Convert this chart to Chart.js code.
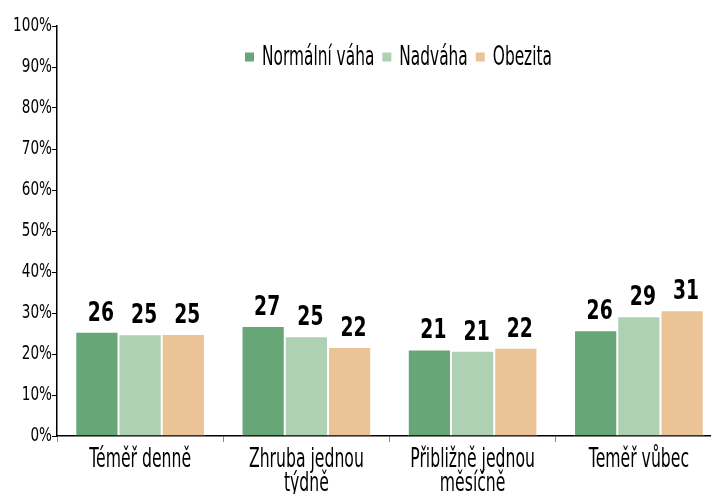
<!DOCTYPE html>
<html>
<head>
<meta charset="utf-8">
<script src="https://cdn.jsdelivr.net/npm/chart.js@4"></script>
<style>
html, body { margin: 0; padding: 0; background: #fff; overflow: hidden; }
#wrap { width: 730px; height: 494px; position: relative; }
</style>
</head>
<body>
<div id="wrap"><canvas id="myChart"></canvas></div>
<script>
// data
var categories = [['Téměř denně'], ['Zhruba jednou', 'týdně'], ['Přibližně jednou', 'měsíčně'], ['Teměř vůbec']];
var seriesNames = ['Normální váha', 'Nadváha', 'Obezita'];
var normalni = [25.4, 26.8, 21.1, 25.8];
var nadvaha = [24.8, 24.3, 20.8, 29.2];
var obezita = [24.9, 21.7, 21.5, 30.7];
var normalniLabels = [26, 27, 21, 26];
var nadvahaLabels = [25, 25, 21, 29];
var obezitaLabels = [25, 22, 22, 31];
var yTicks = [0, 10, 20, 30, 40, 50, 60, 70, 80, 90, 100];
var colors = ['#67a677', '#add1b2', '#eac497'];

var FONT = "'DejaVu Sans', sans-serif";

// draw text horizontally squeezed (the original uses a very narrow font)
function squeezed(ctx, sx, fn) {
  var orig = CanvasRenderingContext2D.prototype.fillText;
  ctx.fillText = function(t, x, y) {
    ctx.save();
    ctx.translate(x, y);
    ctx.scale(sx, 1);
    orig.call(ctx, t, 0, 0);
    ctx.restore();
  };
  try { fn(); } finally { delete ctx.fillText; }
}

function squeezeLabels(sx) {
  return function(scale) {
    if (scale._squeezed) return;
    var orig = scale.drawLabels.bind(scale);
    scale.drawLabels = function(area) {
      squeezed(scale.ctx, sx, function() { orig(area); });
    };
    scale._squeezed = true;
  };
}

var valueLabelPlugin = {
  id: 'valueLabels',
  afterDatasetsDraw: function(chart) {
    var ctx = chart.ctx;
    var all = [normalniLabels, nadvahaLabels, obezitaLabels];
    ctx.save();
    ctx.font = 'bold 26px ' + FONT;
    ctx.fillStyle = '#000';
    ctx.textAlign = 'center';
    ctx.textBaseline = 'alphabetic';
    squeezed(ctx, 0.72, function() {
      chart.data.datasets.forEach(function(ds, i) {
        chart.getDatasetMeta(i).data.forEach(function(bar, j) {
          ctx.fillText(String(all[i][j]), bar.x + 4, bar.y - 11);
        });
      });
    });
    ctx.restore();
  }
};

var legendPlugin = {
  id: 'innerLegend',
  afterDraw: function(chart) {
    var ctx = chart.ctx;
    var sx = 0.57, box = 9, gapBox = 8, gapItem = 8, yc = 57;
    ctx.save();
    ctx.font = '27px ' + FONT;
    var widths = chart.data.datasets.map(function(ds) {
      return ctx.measureText(ds.label).width * sx;
    });
    var x = 245;
    ctx.textBaseline = 'middle';
    ctx.textAlign = 'left';
    squeezed(ctx, sx, function() {
      chart.data.datasets.forEach(function(ds, i) {
        ctx.fillStyle = ds.backgroundColor;
        ctx.fillRect(x, yc - box / 2, box, box);
        x += box + gapBox;
        ctx.fillStyle = '#000';
        ctx.fillText(ds.label, x, yc + 1);
        x += widths[i] + gapItem;
      });
    });
    ctx.restore();
  }
};

var ctx = document.getElementById('myChart').getContext('2d');
var chart = new Chart(ctx, {
  type: 'bar',
  data: {
    labels: categories,
    datasets: [
      { label: seriesNames[0], data: normalni, backgroundColor: colors[0] },
      { label: seriesNames[1], data: nadvaha, backgroundColor: colors[1] },
      { label: seriesNames[2], data: obezita, backgroundColor: colors[2] }
    ]
  },
  options: {
    responsive: true,
    maintainAspectRatio: false,
    animation: false,
    devicePixelRatio: 1,
    layout: { padding: { top: 26, right: 8, left: 0, bottom: 0 } },
    datasets: {
      bar: { barPercentage: 1, categoryPercentage: 0.78, borderColor: '#fff', borderWidth: 1 }
    },
    plugins: {
      legend: { display: false },
      title: { display: false },
      tooltip: { enabled: false }
    },
    scales: {
      x: {
        grid: { offset: true, drawOnChartArea: false, drawTicks: true, tickLength: 6, color: '#888' },
        border: { color: '#000', width: 1.5 },
        ticks: {
          color: '#000', maxRotation: 0, autoSkip: false, padding: 6,
          font: { family: FONT, size: 27, lineHeight: 0.88 }
        },
        afterFit: function(s) { s.height = 58; s.paddingLeft = 0; s.paddingRight = 0; },
        afterUpdate: squeezeLabels(0.58)
      },
      y: {
        min: 0, max: 100,
        afterBuildTicks: function(s) { s.ticks = yTicks.map(function(v) { return { value: v }; }); },
        grid: { drawOnChartArea: false, drawTicks: true, tickLength: 5, color: '#000' },
        border: { color: '#000', width: 1.5 },
        ticks: {
          color: '#000', padding: 0,
          font: { family: FONT, size: 20 },
          callback: function(v) { return v + '%'; }
        },
        afterFit: function(s) { s.width = 57; s.paddingTop = 0; s.paddingBottom = 0; },
        afterUpdate: squeezeLabels(0.68)
      }
    }
  },
  plugins: [valueLabelPlugin, legendPlugin]
});
</script>
</body>
</html>
